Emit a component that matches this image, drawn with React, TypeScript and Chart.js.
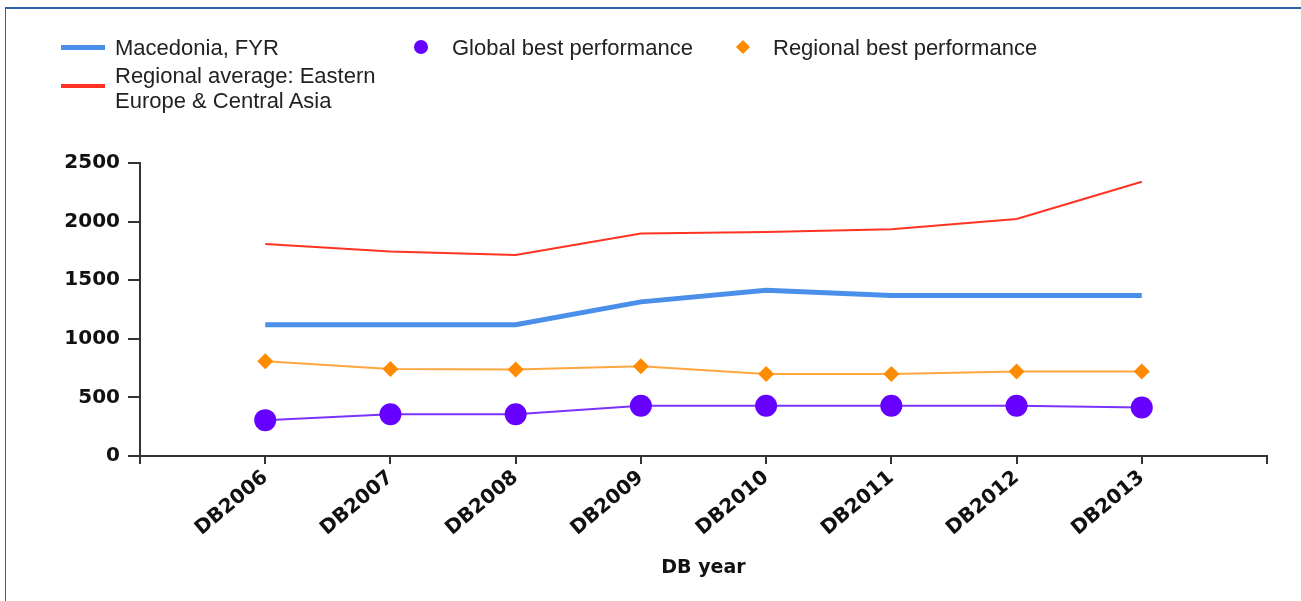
import React, { useEffect, useRef } from "react";
import Chart from "chart.js/auto";

const years = ["DB2006", "DB2007", "DB2008", "DB2009", "DB2010", "DB2011", "DB2012", "DB2013"];
const macedonia = [1120, 1120, 1120, 1315, 1415, 1370, 1370, 1370];
const regionalAverage = [1808, 1745, 1715, 1898, 1912, 1935, 2022, 2340];
const globalBest = [306, 357, 357, 428, 428, 428, 428, 414];
const regionalBest = [808, 742, 737, 765, 700, 700, 722, 722];
const yTicks = [0, 500, 1000, 1500, 2000, 2500];

const BLUE = "#4A8FEA";
const RED = "#FF3322";
const PURPLE = "#6600FF";
const ORANGE = "#FF8C00";

const pad = (arr: (number | null)[]) => [null, ...arr, null];

export default function App() {
  const ref = useRef<HTMLCanvasElement | null>(null);

  useEffect(() => {
    if (!ref.current) return;
    const labels = ["", ...years, ""];
    const chart = new Chart(ref.current, {
      type: "line",
      data: {
        labels,
        datasets: [
          {
            label: "Global best performance",
            data: pad(globalBest),
            borderColor: "#7A33FF",
            borderWidth: 2,
            pointRadius: 11,
            pointBackgroundColor: PURPLE,
            pointBorderWidth: 0,
          },
          {
            label: "Regional best performance",
            data: pad(regionalBest),
            borderColor: "#FFA640",
            borderWidth: 2,
            pointStyle: "rectRot",
            pointRadius: 8,
            pointBackgroundColor: ORANGE,
            pointBorderWidth: 0,
          },
          {
            label: "Macedonia, FYR",
            data: pad(macedonia),
            borderColor: BLUE,
            borderWidth: 5,
            pointRadius: 0,
          },
          {
            label: "Regional average: Eastern Europe & Central Asia",
            data: pad(regionalAverage),
            borderColor: RED,
            borderWidth: 2,
            pointRadius: 0,
          },
        ],
      },
      options: {
        animation: false,
        responsive: false,
        layout: { padding: { left: 0, top: 163, right: 34, bottom: 0 } },
        plugins: { legend: { display: false }, tooltip: { enabled: false } },
        scales: {
          x: {
            type: "category",
            offset: false,
            grid: { drawOnChartArea: false, tickLength: 8, color: "#333", lineWidth: 2 },
            border: { display: true, color: "#333", width: 2 },
            ticks: {
              autoSkip: false,
              minRotation: 40,
              maxRotation: 40,
              color: "#111",
              padding: 2,
              font: { family: "DejaVu Sans", weight: "bold", size: 20 },
            },
            title: {
              display: true,
              text: "DB year",
              color: "#111",
              font: { family: "DejaVu Sans", weight: "bold", size: 19 },
              padding: { top: 0, bottom: 22 },
            },
            afterFit: (s: any) => {
              s.height = 145;
            },
          },
          y: {
            min: 0,
            max: 2500,
            afterBuildTicks: (s: any) => {
              s.ticks = yTicks.map((v) => ({ value: v }));
            },
            grid: { drawOnChartArea: false, tickLength: 12, color: "#333", lineWidth: 2 },
            border: { display: true, color: "#333", width: 2 },
            ticks: {
              color: "#111",
              padding: 8,
              font: { family: "DejaVu Sans", weight: "bold", size: 20 },
              callback: (v: any) => String(v),
            },
            afterFit: (s: any) => {
              s.width = 140;
            },
          },
        },
      },
    });
    return () => chart.destroy();
  }, []);

  const legendText: React.CSSProperties = {
    position: "absolute",
    fontFamily: "'Liberation Sans', Arial, sans-serif",
    fontSize: 22,
    color: "#222",
    lineHeight: "25px",
    whiteSpace: "nowrap",
  };

  return (
    <div style={{ position: "fixed", left: 0, top: 0, width: 1301, height: 601, background: "#fff", overflow: "hidden" }}>
      <div
        style={{
          position: "absolute",
          left: 5,
          top: 7,
          width: 1400,
          height: 700,
          borderTop: "2px solid #2A64A8",
          borderLeft: "1px solid #2A64A8",
        }}
      />
      <canvas ref={ref} width={1301} height={601} style={{ position: "absolute", left: 0, top: 0 }} />
      <div style={{ position: "absolute", left: 61, top: 45, width: 44, height: 5, background: BLUE }} />
      <div style={{ ...legendText, left: 115, top: 35 }}>Macedonia, FYR</div>
      <div style={{ position: "absolute", left: 61, top: 84, width: 44, height: 4, background: RED }} />
      <div style={{ ...legendText, left: 115, top: 63 }}>
        Regional average: Eastern
        <br />
        Europe &amp; Central Asia
      </div>
      <div style={{ position: "absolute", left: 414, top: 40, width: 14, height: 14, borderRadius: 7, background: PURPLE }} />
      <div style={{ ...legendText, left: 452, top: 35 }}>Global best performance</div>
      <div
        style={{
          position: "absolute",
          left: 738,
          top: 42,
          width: 10,
          height: 10,
          background: ORANGE,
          transform: "rotate(45deg)",
        }}
      />
      <div style={{ ...legendText, left: 773, top: 35 }}>Regional best performance</div>
    </div>
  );
}
